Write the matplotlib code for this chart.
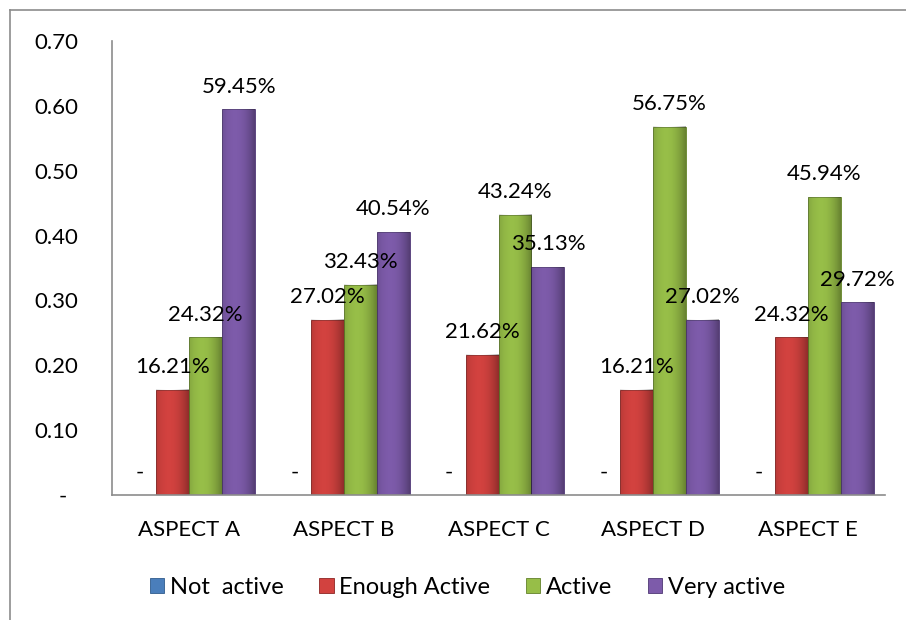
import matplotlib.pyplot as plt
from matplotlib.lines import Line2D
import numpy as np

categories = ['ASPECT A', 'ASPECT B', 'ASPECT C', 'ASPECT D', 'ASPECT E']
series_names = ['Not  active', 'Enough Active', 'Active', 'Very active']
not_active = [0.0, 0.0, 0.0, 0.0, 0.0]
enough_active = [16.21, 27.02, 21.62, 16.21, 24.32]
active = [24.32, 32.43, 43.24, 56.75, 45.94]
very_active = [59.45, 40.54, 35.13, 27.02, 29.72]
y_ticks = [0.0, 0.1, 0.2, 0.3, 0.4, 0.5, 0.6, 0.7]

colors = ['#4a7ebb', '#d2423f', '#97be48', '#7d5baa']
edges = ['#2f5b8c', '#8e2624', '#62812a', '#4f3774']

plt.rcParams['font.family'] = ['Lato', 'DejaVu Sans']

fig = plt.figure(figsize=(9.06, 6.2), dpi=100)
ax = fig.add_axes([112 / 906, 1 - 495 / 620, 773 / 906, 454 / 620])

# horizontal shading profile to fake the beveled Excel bars
t = np.linspace(0, 1, 60)
alpha = np.where(t < 0.4, 0.12 * ((0.4 - t) / 0.4) ** 2, 0.32 * ((t - 0.4) / 0.6) ** 2)
shade = np.zeros((1, len(t), 4))
shade[0, :, 3] = alpha

x = np.arange(len(categories))
w = 0.213
all_series = [not_active, enough_active, active, very_active]
for i, vals in enumerate(all_series):
    pos = x + (i - 1.5) * w
    heights = [v / 100 for v in vals]
    bars = ax.bar(pos, heights, width=w, color=colors[i], edgecolor=edges[i],
                  linewidth=0.6, label=series_names[i], zorder=2)
    for b in bars:
        if b.get_height() > 0:
            ax.imshow(shade, extent=[b.get_x(), b.get_x() + b.get_width(), 0, b.get_height()],
                      aspect='auto', interpolation='bilinear', zorder=3)
    for px, v in zip(pos, vals):
        txt = '-' if v == 0 else f'{v:.2f}%'
        ax.annotate(txt, (px, v / 100), xytext=(0, 12), textcoords='offset points',
                    ha='center', va='baseline', fontsize=16, color='black')

ax.set_xlim(-0.5, len(categories) - 0.5)
ax.set_ylim(0, 0.7)
ax.set_yticks(y_ticks)
ax.set_yticklabels(['-  '] + [f'{t:.2f}' for t in y_ticks[1:]])
ax.set_xticks(x)
ax.set_xticklabels(categories)
ax.tick_params(axis='y', length=0, pad=24, labelsize=16)
ax.tick_params(axis='x', length=0, pad=18, labelsize=16)
for s in ['top', 'right']:
    ax.spines[s].set_visible(False)
for s in ['left', 'bottom']:
    ax.spines[s].set_color('#8c8c8c')
    ax.spines[s].set_linewidth(1.2)
    ax.spines[s].set_zorder(4)

fig.legend(loc='center', bbox_to_anchor=(0.516, 1 - 587 / 620), ncol=4,
           frameon=False, fontsize=17, handlelength=0.6, handleheight=0.6,
           handletextpad=0.25, columnspacing=1.5)

# outer chart-area border (only top and left visible in the frame)
fig.add_artist(Line2D([10 / 906, 10 / 906], [0, 1 - 10 / 620], color='#8c8c8c', lw=1.2))
fig.add_artist(Line2D([10 / 906, 1], [1 - 10 / 620, 1 - 10 / 620], color='#8c8c8c', lw=1.2))

fig.savefig('out.png', dpi=100)
